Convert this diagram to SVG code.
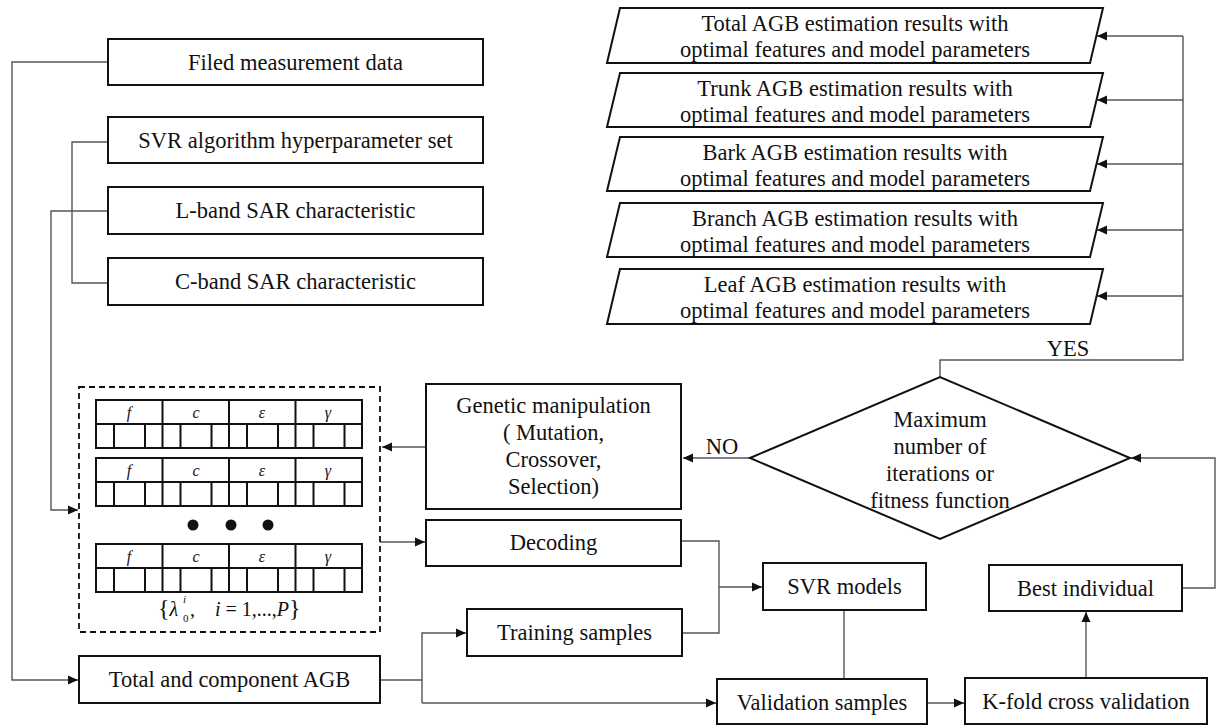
<svg xmlns="http://www.w3.org/2000/svg" width="1216" height="725" viewBox="0 0 1216 725">
<style>
.box{fill:#fff;stroke:#111;stroke-width:2}
.t{font-family:"Liberation Serif","Times New Roman",serif;font-size:22.5px;fill:#111;text-anchor:middle}
.s{font-family:"Liberation Serif","Times New Roman",serif;font-size:16px;font-style:italic;fill:#111;text-anchor:middle}
.f{font-family:"Liberation Serif","Times New Roman",serif;font-size:20px;fill:#111}
.fs{font-family:"Liberation Serif","Times New Roman",serif;font-size:11px;fill:#111}
.c{fill:none;stroke:#555;stroke-width:1.4}
.g{fill:none;stroke:#111;stroke-width:2}
</style>
<defs>
<marker id="ah" viewBox="0 0 10 10" refX="10" refY="5" markerWidth="10" markerHeight="10" markerUnits="userSpaceOnUse" orient="auto">
<path d="M0,0.5 L10,5 L0,9.5 Z" fill="#111"/>
</marker>
</defs>
<rect width="1216" height="725" fill="#fff"/>

<g id="connectors">
<polyline class="c" points="108,62 12,62 12,680 78,680" marker-end="url(#ah)"/>
<polyline class="c" points="108,142 72,142 72,283 108,283"/>
<polyline class="c" points="108,211 51,211 51,510 78,510" marker-end="url(#ah)"/>
<line class="c" x1="426" y1="447" x2="382" y2="447" marker-end="url(#ah)"/>
<line class="c" x1="380" y1="542" x2="425" y2="542" marker-end="url(#ah)"/>
<polyline class="c" points="681,541 719,541 719,633 682,633"/>
<line class="c" x1="719" y1="587" x2="762" y2="587" marker-end="url(#ah)"/>
<line class="c" x1="380" y1="680" x2="422" y2="680"/>
<polyline class="c" points="422,703 422,633 466,633" marker-end="url(#ah)"/>
<polyline class="c" points="422,703 716,703" marker-end="url(#ah)"/>
<line class="c" x1="844" y1="610" x2="844" y2="679"/>
<line class="c" x1="927" y1="703" x2="964" y2="703" marker-end="url(#ah)"/>
<line class="c" x1="1086" y1="678" x2="1086" y2="612" marker-end="url(#ah)"/>
<polyline class="c" points="1182,588 1215,588 1215,458 1131,458" marker-end="url(#ah)"/>
<line class="c" x1="750" y1="458" x2="683" y2="458" marker-end="url(#ah)"/>
<polyline class="c" points="940,377 940,360 1183,360 1183,36"/>
<line class="c" x1="1183" y1="36" x2="1097" y2="36" marker-end="url(#ah)"/>
<line class="c" x1="1183" y1="100" x2="1097" y2="100" marker-end="url(#ah)"/>
<line class="c" x1="1183" y1="164" x2="1097" y2="164" marker-end="url(#ah)"/>
<line class="c" x1="1183" y1="230" x2="1097" y2="230" marker-end="url(#ah)"/>
<line class="c" x1="1183" y1="296" x2="1097" y2="296" marker-end="url(#ah)"/>
<text class="t" x="1068" y="356">YES</text>
<text class="t" x="722" y="454">NO</text>
</g>

<g id="filed">
<rect class="box" x="108" y="39" width="375" height="46"/>
<text class="t" x="295.5" y="70">Filed measurement data</text>
</g>
<g id="svrset">
<rect class="box" x="108" y="117" width="375" height="46"/>
<text class="t" x="295.5" y="148">SVR algorithm hyperparameter set</text>
</g>
<g id="lband">
<rect class="box" x="108" y="187" width="375" height="47"/>
<text class="t" x="295.5" y="218">L-band SAR characteristic</text>
</g>
<g id="cband">
<rect class="box" x="108" y="258" width="375" height="47"/>
<text class="t" x="295.5" y="289">C-band SAR characteristic</text>
</g>

<g id="out-total">
<polygon class="box" points="620,8 1103,8 1090,63 607,63"/>
<text class="t" x="855" y="31">Total AGB estimation results with</text>
<text class="t" x="855" y="57">optimal features and model parameters</text>
</g>
<g id="out-trunk">
<polygon class="box" points="620,73 1103,73 1090,127 607,127"/>
<text class="t" x="855" y="96">Trunk AGB estimation results with</text>
<text class="t" x="855" y="122">optimal features and model parameters</text>
</g>
<g id="out-bark">
<polygon class="box" points="620,137 1103,137 1090,191 607,191"/>
<text class="t" x="855" y="160">Bark AGB estimation results with</text>
<text class="t" x="855" y="186">optimal features and model parameters</text>
</g>
<g id="out-branch">
<polygon class="box" points="620,203 1103,203 1090,257 607,257"/>
<text class="t" x="855" y="226">Branch AGB estimation results with</text>
<text class="t" x="855" y="252">optimal features and model parameters</text>
</g>
<g id="out-leaf">
<polygon class="box" points="620,269 1103,269 1090,324 607,324"/>
<text class="t" x="855" y="292">Leaf AGB estimation results with</text>
<text class="t" x="855" y="318">optimal features and model parameters</text>
</g>

<g id="population">
<rect x="79" y="387" width="301" height="245" fill="none" stroke="#111" stroke-width="1.8" stroke-dasharray="6,4"/>
<g id="chrom1">
<rect class="g" x="96" y="400" width="266" height="48"/>
<line class="g" x1="96" y1="424" x2="362" y2="424"/>
<path class="g" d="M162.5,400V448M229,400V448M295.5,400V448M114,424V448M145,424V448M180.5,424V448M211.5,424V448M247,424V448M278,424V448M313.5,424V448M344.5,424V448"/>
<text class="s" x="129" y="418">f</text><text class="s" x="196" y="418">c</text><text class="s" x="262" y="418">ε</text><text class="s" x="328" y="418">γ</text>
</g>
<g id="chrom2">
<rect class="g" x="96" y="458" width="266" height="48"/>
<line class="g" x1="96" y1="482" x2="362" y2="482"/>
<path class="g" d="M162.5,458V506M229,458V506M295.5,458V506M114,482V506M145,482V506M180.5,482V506M211.5,482V506M247,482V506M278,482V506M313.5,482V506M344.5,482V506"/>
<text class="s" x="129" y="476">f</text><text class="s" x="196" y="476">c</text><text class="s" x="262" y="476">ε</text><text class="s" x="328" y="476">γ</text>
</g>
<circle cx="193" cy="525" r="5.5" fill="#111"/>
<circle cx="231" cy="525" r="5.5" fill="#111"/>
<circle cx="268" cy="525" r="5.5" fill="#111"/>
<g id="chromP">
<rect class="g" x="96" y="544" width="266" height="48"/>
<line class="g" x1="96" y1="568" x2="362" y2="568"/>
<path class="g" d="M162.5,544V592M229,544V592M295.5,544V592M114,568V592M145,568V592M180.5,568V592M211.5,568V592M247,568V592M278,568V592M313.5,568V592M344.5,568V592"/>
<text class="s" x="129" y="562">f</text><text class="s" x="196" y="562">c</text><text class="s" x="262" y="562">ε</text><text class="s" x="328" y="562">γ</text>
</g>
<text class="f" x="158" y="616"><tspan style="font-size:24px">{</tspan><tspan font-style="italic">λ</tspan></text>
<text class="fs" x="183" y="603" font-style="italic">i</text>
<text class="fs" x="183" y="622">0</text>
<text class="f" x="190" y="616">,</text>
<text class="f" x="215" y="616"><tspan font-style="italic">i</tspan> = 1,...,<tspan font-style="italic">P</tspan><tspan style="font-size:24px">}</tspan></text>
</g>

<g id="genetic">
<rect class="box" x="426" y="384" width="255" height="125"/>
<text class="t" x="553.5" y="413">Genetic manipulation</text>
<text class="t" x="553.5" y="440">( Mutation,</text>
<text class="t" x="553.5" y="467">Crossover,</text>
<text class="t" x="553.5" y="494">Selection)</text>
</g>
<g id="decision">
<polygon class="box" points="750,458 940,377 1130,458 940,539"/>
<text class="t" x="940" y="427">Maximum</text>
<text class="t" x="940" y="454">number of</text>
<text class="t" x="940" y="481">iterations or</text>
<text class="t" x="940" y="508">fitness function</text>
</g>
<g id="decoding">
<rect class="box" x="426" y="520" width="255" height="46"/>
<text class="t" x="553.5" y="550">Decoding</text>
</g>
<g id="training">
<rect class="box" x="467" y="609" width="215" height="47"/>
<text class="t" x="574.5" y="640">Training samples</text>
</g>
<g id="total">
<rect class="box" x="79" y="656" width="301" height="47"/>
<text class="t" x="229.5" y="687">Total and component AGB</text>
</g>
<g id="svrmodels">
<rect class="box" x="763" y="563" width="163" height="47"/>
<text class="t" x="844.5" y="594">SVR models</text>
</g>
<g id="validation">
<rect class="box" x="717" y="679" width="210" height="45"/>
<text class="t" x="822" y="710">Validation samples</text>
</g>
<g id="kfold">
<rect class="box" x="965" y="678" width="242" height="46"/>
<text class="t" x="1086" y="709">K-fold cross validation</text>
</g>
<g id="best">
<rect class="box" x="989" y="565" width="193" height="46"/>
<text class="t" x="1085.5" y="596">Best individual</text>
</g>
</svg>
